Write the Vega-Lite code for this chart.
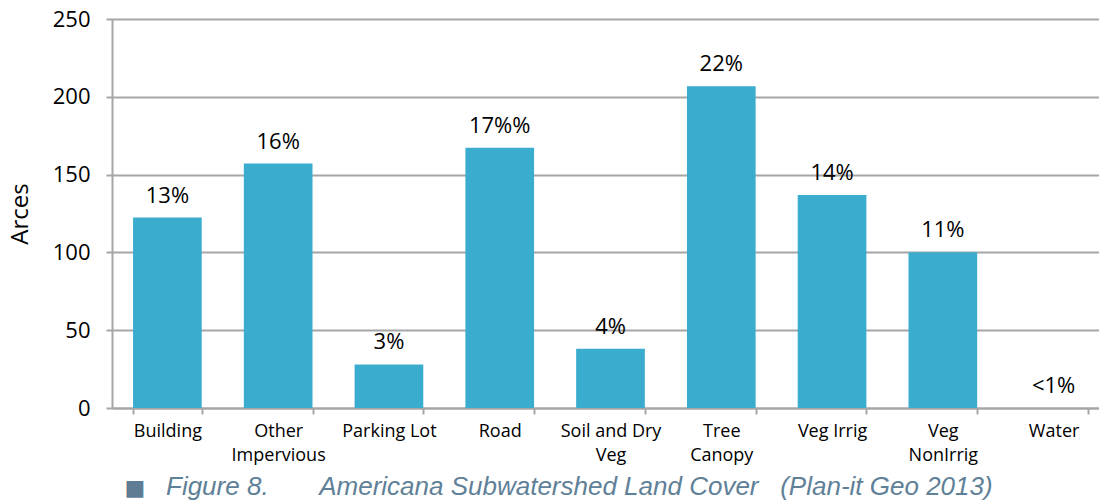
{
  "$schema": "https://vega.github.io/schema/vega-lite/v6.json",
  "width": 987,
  "height": 389,
  "autosize": {"type": "none"},
  "padding": {"left": 112, "top": 19, "right": 0, "bottom": 94},
  "background": "white",
  "config": {"view": {"stroke": null}},
  "title": {
    "text": "Figure 8.\u00a0\u00a0\u00a0\u00a0\u00a0\u00a0\u00a0Americana Subwatershed Land Cover\u00a0\u00a0\u00a0(Plan-it Geo 2013)",
    "orient": "bottom",
    "anchor": "start",
    "frame": "group",
    "dx": 54,
    "offset": -24,
    "font": "Liberation Sans",
    "fontStyle": "italic",
    "fontWeight": "normal",
    "fontSize": 26,
    "color": "#5f8198"
  },
  "data": {
    "values": [
      {"category": "Building", "acres": 122.4, "label": "13%"},
      {"category": "Other Impervious", "acres": 157.1, "label": "16%"},
      {"category": "Parking Lot", "acres": 28.0, "label": "3%"},
      {"category": "Road", "acres": 167.2, "label": "17%%"},
      {"category": "Soil and Dry Veg", "acres": 38.1, "label": "4%"},
      {"category": "Tree Canopy", "acres": 206.7, "label": "22%"},
      {"category": "Veg Irrig", "acres": 136.9, "label": "14%"},
      {"category": "Veg NonIrrig", "acres": 100.1, "label": "11%"},
      {"category": "Water", "acres": 0, "label": "<1%"}
    ]
  },
  "encoding": {
    "x": {
      "field": "category",
      "type": "nominal",
      "sort": null,
      "scale": {"type": "band", "range": [0, 997], "paddingInner": 0.38, "paddingOuter": 0.19},
      "axis": {
        "title": "■",
        "titleFont": "DejaVu Sans",
        "titleFontSize": 22,
        "titleFontWeight": "normal",
        "titleColor": "#5e7d95",
        "titleAnchor": "start",
        "titleAlign": "left",
        "titleBaseline": "alphabetic",
        "titleX": 12,
        "titleY": 86,
        "labelAngle": 0,
        "tickBand": "extent",
        "domainColor": "#a6a6a6",
        "domainWidth": 2,
        "tickColor": "#a6a6a6",
        "tickWidth": 2,
        "tickSize": 6,
        "labelPadding": 8,
        "labelFont": "Open Sans",
        "labelFontSize": 18,
        "labelColor": "#000000",
        "labelLineHeight": 24,
        "labelBaseline": "top",
        "labelExpr": "datum.label == 'Other Impervious' ? ['Other', 'Impervious'] : datum.label == 'Soil and Dry Veg' ? ['Soil and Dry', 'Veg'] : datum.label == 'Tree Canopy' ? ['Tree', 'Canopy'] : datum.label == 'Veg NonIrrig' ? ['Veg', 'NonIrrig'] : datum.label",
        "grid": false
      }
    },
    "y": {
      "field": "acres",
      "type": "quantitative",
      "scale": {"domain": [0, 250], "nice": false},
      "axis": {
        "title": "Arces",
        "titleFont": "Open Sans",
        "titleFontSize": 24,
        "titleFontWeight": "normal",
        "titleColor": "#000000",
        "titlePadding": 20,
        "values": [0, 50, 100, 150, 200, 250],
        "labelFont": "Open Sans",
        "labelFontSize": 22,
        "labelColor": "#000000",
        "labelPadding": 16,
        "tickSize": 6,
        "tickColor": "#a6a6a6",
        "tickWidth": 2,
        "domainColor": "#a6a6a6",
        "domainWidth": 2,
        "grid": true,
        "gridColor": "#a6a6a6",
        "gridWidth": 2
      }
    }
  },
  "layer": [
    {
      "mark": {"type": "bar", "color": "#3aadcf"}
    },
    {
      "mark": {"type": "text", "font": "Open Sans", "fontSize": 22, "color": "#000000", "baseline": "alphabetic", "dy": -15},
      "encoding": {"text": {"field": "label"}}
    }
  ]
}
